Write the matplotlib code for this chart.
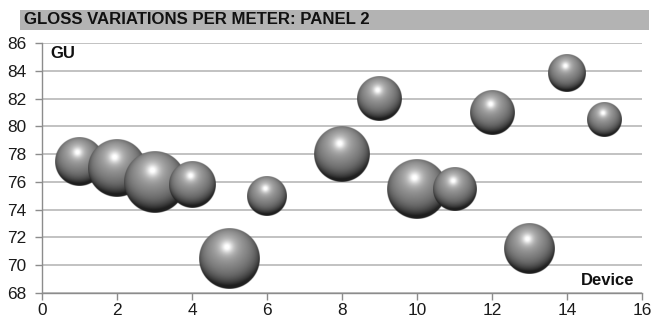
import numpy as np
import matplotlib
matplotlib.use("Agg")
import matplotlib.pyplot as plt
from matplotlib.patches import Rectangle

plt.rcParams['font.family'] = ['Liberation Sans', 'DejaVu Sans']

# Device number, gloss reading (GU) and relative bubble area
devices = [1, 2, 3, 4, 5, 6, 8, 9, 10, 11, 12, 13, 14, 15]
gloss = [77.5, 77.0, 76.0, 75.8, 70.5, 75.0, 78.0, 82.0, 75.5, 75.5, 81.0, 71.2, 83.8, 80.5]
bubble_size = [6.0, 8.2, 9.5, 5.3, 9.2, 3.9, 7.7, 4.9, 9.0, 4.7, 4.9, 6.5, 3.5, 3.0]

x_ticks = [0, 2, 4, 6, 8, 10, 12, 14, 16]
y_ticks = [68, 70, 72, 74, 76, 78, 80, 82, 84, 86]

title = "GLOSS VARIATIONS PER METER: PANEL 2"
y_label = "GU"
x_label = "Device"

W, H, DPI = 652, 320, 100
fig = plt.figure(figsize=(W / DPI, H / DPI), dpi=DPI)
ax = fig.add_axes([42 / W, 1 - 293 / H, 600 / W, 250 / H])
ax.set_xlim(0, 16)
ax.set_ylim(68, 86)
ax.set_xticks(x_ticks)
ax.set_yticks(y_ticks)

grid_c = "#bdbdbd"
ax.yaxis.grid(True, color=grid_c, linewidth=1.3)
ax.set_axisbelow(True)
for s in ("top", "right"):
    ax.spines[s].set_visible(False)
for s in ("left", "bottom"):
    ax.spines[s].set_color("#8c8c8c")
    ax.spines[s].set_linewidth(1.0)
ax.tick_params(axis="both", colors="#8c8c8c", length=5, width=1.0,
               labelsize=12.4, labelcolor="#1a1a1a")
ax.tick_params(axis="y", pad=6)
ax.tick_params(axis="x", pad=2)


def sphere_rgba(n=160):
    """Shaded grey sphere with a soft highlight, alpha-masked to a disc."""
    t = np.linspace(-1, 1, n)
    u, v = np.meshgrid(t, -t)
    r2 = u ** 2 + v ** 2
    rr = np.sqrt(r2)
    w = np.sqrt(np.clip(1 - r2, 0, None))
    L = np.array([-0.10, 0.45, 0.89])
    L = L / np.linalg.norm(L)
    diff = np.clip(u * L[0] + v * L[1] + w * L[2], 0, None)
    # soft glow around the highlight spot
    hx, hy = -0.08, 0.38
    d2 = (u - hx) ** 2 + (v - hy) ** 2
    glow = np.exp(-d2 / 0.10)
    core = np.exp(-d2 / 0.03)
    g = 0.18 + 0.45 * diff + 0.20 * glow + 0.20 * core
    # darker band toward the lower rim, slight lift right at the edge
    low = np.clip(-v, 0, None)
    g -= 0.10 * low ** 1.5 * (rr > 0.55) * (rr - 0.55) / 0.45
    g += 0.05 * low ** 4 * np.clip((rr - 0.9) / 0.1, 0, 1)
    g = np.clip(g, 0, 1)
    alpha = np.clip((1 - rr) * n / 2 + 0.5, 0, 1)
    img = np.zeros((n, n, 4))
    img[..., 0] = g
    img[..., 1] = g
    img[..., 2] = g
    img[..., 3] = alpha
    return np.clip(img, 0, 1)


sph = sphere_rgba()
# pixels per data unit
px_x = 600 / 16
px_y = 250 / 18
for i, (xd, yd, sz) in enumerate(zip(devices, gloss, bubble_size)):
    r = 10.0 * np.sqrt(sz)
    hx, hy = r / px_x, r / px_y
    ax.imshow(sph, extent=[xd - hx, xd + hx, yd - hy, yd + hy],
              interpolation="bilinear", zorder=3 + i, aspect="auto")
ax.set_xlim(0, 16)
ax.set_ylim(68, 86)

# Title band
fig.patches.append(Rectangle((20 / W, 1 - 29.5 / H), 629 / W, 19.5 / H,
                             transform=fig.transFigure, facecolor="#b3b3b3",
                             edgecolor="none"))
fig.text(24 / W, 1 - 19.5 / H, title, fontsize=12.1, fontweight="bold",
         va="center", ha="left", color="#111111")

ax.text(8 / 600, 1 - 10 / 250, y_label, transform=ax.transAxes, fontsize=12,
        fontweight="bold", va="center", ha="left", color="#111111", zorder=30)
ax.text(592 / 600, 12.5 / 250, x_label, transform=ax.transAxes, fontsize=12,
        fontweight="bold", va="center", ha="right", color="#111111", zorder=30)

fig.savefig("out.png", dpi=DPI)
